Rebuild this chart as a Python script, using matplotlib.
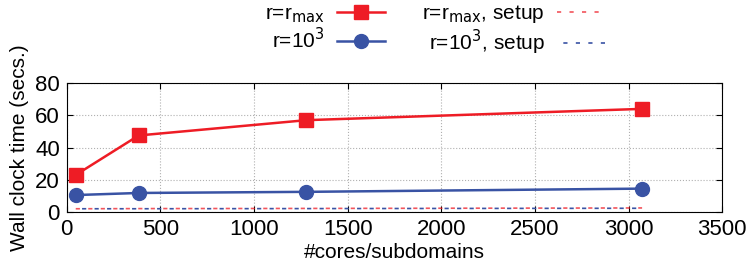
import matplotlib.pyplot as plt

plt.rcParams['font.family'] = ['Liberation Sans', 'DejaVu Sans']

cores = [48, 384, 1280, 3072]
t_rmax = [23, 47.5, 57, 64]
t_r1000 = [10.5, 11.8, 12.5, 14.5]
setup_rmax = [2.0, 2.1, 2.2, 2.5]
setup_r1000 = [2.0, 2.0, 2.1, 2.3]

red = '#ee1c25'
blue = '#3953a4'

fig = plt.figure(figsize=(7.5, 2.63), dpi=100)
ax = fig.add_axes([0.089, 0.194, 0.874, 0.49])

l1, = ax.plot(cores, t_rmax, color=red, lw=1.8, marker='s', ms=10, label=r'r=r$_{\rm max}$')
l2, = ax.plot(cores, t_r1000, color=blue, lw=1.8, marker='o', ms=10, label=r'r=10$^3$')
l3, = ax.plot(cores, setup_rmax, color=red, lw=1.2, ls=(0, (2.5, 5)), alpha=0.75,
              label=r'r=r$_{\rm max}$, setup')
l4, = ax.plot(cores, setup_r1000, color=blue, lw=1.2, ls=(3.7, (2.5, 5)),
              label=r'r=10$^3$, setup')

ax.set_xlim(0, 3500)
ax.set_ylim(0, 80)
ax.set_xticks(range(0, 3501, 500))
ax.set_yticks(range(0, 81, 20))
ax.tick_params(direction='in', top=True, right=True, labelsize=16, length=4, pad=5)
ax.grid(True, ls=':', color='#b0b0b0', lw=0.8)
ax.set_xlabel('#cores/subdomains', fontsize=15, labelpad=2)
ax.set_ylabel('Wall clock time (secs.)', fontsize=15, labelpad=4)

fig.legend(handles=[l1, l2, l3, l4], ncol=2, markerfirst=False, frameon=False,
           fontsize=15, loc='upper center', bbox_to_anchor=(0.58, 1.06),
           handlelength=2.3, columnspacing=1.8, labelspacing=0.12, handletextpad=0.6)

fig.savefig('out.png', dpi=100)
